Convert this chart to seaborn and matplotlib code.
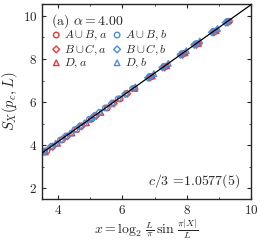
import numpy as np
import pandas as pd
import matplotlib
matplotlib.use("Agg")
import matplotlib.pyplot as plt
import seaborn as sns
from matplotlib.ticker import MultipleLocator

sns.set_style("ticks")
plt.rcParams['font.family'] = 'serif'
plt.rcParams['font.serif'] = ['cmr10', 'DejaVu Serif']
plt.rcParams['mathtext.fontset'] = 'cm'
plt.rcParams['axes.formatter.use_mathtext'] = True
plt.rcParams['axes.unicode_minus'] = False

# Data
labels = [r"$A\cup B, a$", r"$B\cup C, a$", r"$D, a$",
          r"$A\cup B, b$", r"$B\cup C, b$", r"$D, b$"]
markers = ["o", "D", "^", "o", "D", "^"]
red = "#e8383d"
blue = "#4a90d9"
colors = [red, red, red, blue, blue, blue]

x_ab_a = [3.65, 4.13, 4.58, 5.03, 5.53, 5.93, 6.38, 6.91, 7.36, 7.92, 8.35, 8.90, 9.33]
y_ab_a = [3.74, 4.25, 4.72, 5.20, 5.73, 6.15, 6.63, 7.19, 7.66, 8.26, 8.71, 9.29, 9.75]
x_bc_a = [3.83, 4.28, 4.73, 5.18, 5.73, 6.15, 6.86, 7.31, 7.87, 8.30, 8.85, 9.28]
y_bc_a = [3.93, 4.41, 4.88, 5.36, 5.94, 6.39, 7.14, 7.61, 8.20, 8.66, 9.24, 9.70]
x_d_a = [3.60, 3.98, 4.43, 4.88, 5.33, 6.38, 6.93, 7.38, 7.95, 8.37, 8.92]
y_d_a = [3.69, 4.09, 4.57, 5.04, 5.52, 6.63, 7.21, 7.69, 8.29, 8.73, 9.32]
x_ab_b = [3.58, 4.07, 4.52, 4.97, 5.47, 5.87, 6.32, 6.85, 7.30, 7.86, 8.29, 8.84, 9.27]
y_ab_b = [3.73, 4.24, 4.72, 5.20, 5.73, 6.15, 6.62, 7.19, 7.66, 8.25, 8.71, 9.29, 9.75]
x_bc_b = [3.77, 4.22, 4.67, 5.12, 5.27, 5.67, 6.09, 6.80, 7.25, 7.81, 8.24, 8.79, 9.22]
y_bc_b = [3.93, 4.40, 4.88, 5.36, 5.51, 5.94, 6.38, 7.13, 7.61, 8.20, 8.66, 9.24, 9.69]
x_d_b = [3.54, 3.92, 4.37, 4.82, 5.05, 6.40, 6.98, 7.43, 7.99, 8.41, 8.96]
y_d_b = [3.68, 4.09, 4.56, 5.04, 5.28, 6.71, 7.32, 7.80, 8.39, 8.84, 9.42]

xs = [x_ab_a, x_bc_a, x_d_a, x_ab_b, x_bc_b, x_d_b]
ys = [y_ab_a, y_bc_a, y_d_a, y_ab_b, y_bc_b, y_d_b]

slope = 1.0577
intercept = -0.06
fit_x = [3.5, 10.0]

fig = plt.figure(figsize=(2.63, 2.41), dpi=100)
ax = fig.add_axes([0.160, 0.174, 0.794, 0.809])

fit_df = pd.DataFrame({"x": fit_x, "y": [slope * v + intercept for v in fit_x]})
sns.lineplot(data=fit_df, x="x", y="y", ax=ax, color="black", lw=0.9, zorder=3)

for lab, mk, col, xv, yv in zip(labels, markers, colors, xs, ys):
    df = pd.DataFrame({"x": xv, "y": yv})
    ms = 16 if mk != "D" else 12
    sns.scatterplot(data=df, x="x", y="y", ax=ax, marker=mk, s=ms,
                    facecolor="none", edgecolor=col, linewidth=1.0,
                    label=lab, zorder=2)

ax.set_xlim(3.5, 10)
ax.set_ylim(1.5, 10.55)
ax.xaxis.set_major_locator(MultipleLocator(2))
ax.xaxis.set_minor_locator(MultipleLocator(1))
ax.yaxis.set_major_locator(MultipleLocator(2))
ax.yaxis.set_minor_locator(MultipleLocator(1))
ax.tick_params(which="both", direction="in", top=True, right=True, labelsize=9.5)
ax.tick_params(which="major", length=3, width=0.8)
ax.tick_params(which="minor", length=1.5, width=0.6)
for s in ax.spines.values():
    s.set_linewidth(1.0)

ax.set_xlabel(r"$x=\log_2\,\frac{L}{\pi}\,\sin\,\frac{\pi|X|}{L}$", fontsize=10, labelpad=0)
ax.set_ylabel(r"$S_X(p_c, L)$", fontsize=10.5, labelpad=2)

ax.text(0.045, 0.96, r"(a) $\alpha=4.00$", transform=ax.transAxes,
        fontsize=10, va="top", ha="left")
ax.text(0.95, 0.045, r"$c/3$ =1.0577(5)", transform=ax.transAxes,
        fontsize=10, va="bottom", ha="right")

leg = ax.legend(loc="upper left", bbox_to_anchor=(0.0, 0.915), ncol=2,
                frameon=False, fontsize=8.5, handletextpad=0.15,
                columnspacing=0.35, labelspacing=0.0, borderpad=0.2,
                handlelength=1.0, markerscale=1.0)

fig.savefig("out.png", dpi=100)
